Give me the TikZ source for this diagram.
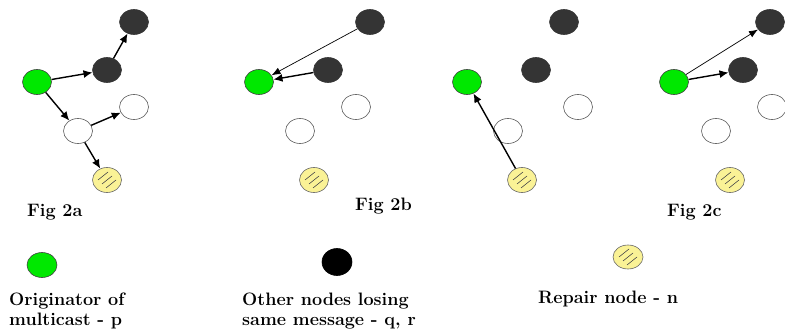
\documentclass[tikz,border=0pt]{standalone}
\usetikzlibrary{arrows.meta,shapes.geometric}
\definecolor{origgreen}{RGB}{0,232,0}
\definecolor{lostgray}{RGB}{52,52,52}
\definecolor{repairyel}{RGB}{250,242,150}
\tikzset{
  % --- nodes ------------------------------------------------------------
  base/.style   ={ellipse, draw=black!75, line width=0.6pt, inner sep=0pt,
                  minimum width=29pt, minimum height=25pt},
  origin/.style ={base, fill=origgreen},                    % originator p
  lost/.style   ={base, fill=lostgray, draw=lostgray},      % q, r
  plain/.style  ={base, fill=white, draw=black!65},         % other members
  repair/.style ={base, fill=repairyel, draw=black!60,      % repair node n
                  path picture={
                    \foreach \d in {-4,0,4}
                      \draw[black!70, line width=0.6pt]
                        ([shift={(-5pt+\d pt,-4pt-\d pt)}]path picture bounding box.center)
                        -- ++(10pt,8pt);
                  }},
  % --- arrows -----------------------------------------------------------
  arrow/.style    ={-{Latex[length=9pt,width=8pt]}, line width=1.4pt},
  thinarrow/.style={-{Latex[length=9pt,width=7pt]}, line width=0.7pt},
  % --- text -------------------------------------------------------------
  lab/.style ={font=\bfseries\fontsize{18}{20}\selectfont, align=left,
               inner sep=0pt, anchor=base west},
}

\begin{document}
\begin{tikzpicture}[x=1pt,y=1pt]
  \useasboundingbox (0,0) rectangle (785,330);

  % ===================== Fig 2a =====================
  \node[origin] (a-p)  at (37,248)  {};
  \node[lost]   (a-q)  at (107,260) {};
  \node[lost]   (a-r)  at (134,308) {};
  \node[plain]  (a-w1) at (134,223) {};
  \node[plain]  (a-w2) at (78,199)  {};
  \node[repair] (a-n)  at (107,150) {};
  \draw[arrow] (a-p) -- (a-q);
  \draw[arrow] (a-q) -- (a-r);
  \draw[arrow] (a-p) -- (a-w2);
  \draw[arrow] (a-w2) -- (a-w1);
  \draw[arrow] (a-w2) -- (a-n);
  \node[lab] (fig-a) at (27,114) {Fig 2a};

  % ===================== Fig 2b =====================
  \node[origin] (b-p)  at (259,248) {};
  \node[lost]   (b-q)  at (328,260) {};
  \node[lost]   (b-r)  at (370,308) {};
  \node[plain]  (b-w1) at (356,223) {};
  \node[plain]  (b-w2) at (300,199) {};
  \node[repair] (b-n)  at (314,150) {};
  \draw[thinarrow] (b-r) -- (b-p);
  \draw[arrow] (b-q) -- (b-p);
  \node[lab] (fig-b) at (355,120) {Fig 2b};

  % ===================== repair request =====================
  \node[origin] (c-p)  at (467,248) {};
  \node[lost]   (c-q)  at (536,260) {};
  \node[lost]   (c-r)  at (564,308) {};
  \node[plain]  (c-w1) at (578,223) {};
  \node[plain]  (c-w2) at (508,199) {};
  \node[repair] (c-n)  at (522,150) {};
  \draw[arrow] (c-n) -- (c-p);

  % ===================== Fig 2c =====================
  \node[origin] (d-p)  at (674,248) {};
  \node[lost]   (d-q)  at (743,260) {};
  \node[lost]   (d-r)  at (770,308) {};
  \node[plain]  (d-w1) at (772,223) {};
  \node[plain]  (d-w2) at (716,199) {};
  \node[repair] (d-n)  at (730,150) {};
  \draw[thinarrow] (d-p) -- (d-r);
  \draw[arrow] (d-p) -- (d-q);
  \node[lab] (fig-c) at (667,114) {Fig 2c};

  % ===================== legend =====================
  \node[origin, minimum width=30pt] (key-p) at (42,65) {};
  \node[lab] (txt-p) at (9,5) {Originator of\\multicast - p};
  \node[lost, fill=black, draw=black, minimum width=30pt, minimum height=27pt]
    (key-q) at (337,68) {};
  \node[lab] (txt-q) at (242,5) {Other nodes losing\\same message - q, r};
  \node[repair, minimum width=30pt, minimum height=24pt] (key-n) at (628,73) {};
  \node[lab] (txt-n) at (538,27) {Repair node - n};
\end{tikzpicture}
\end{document}
